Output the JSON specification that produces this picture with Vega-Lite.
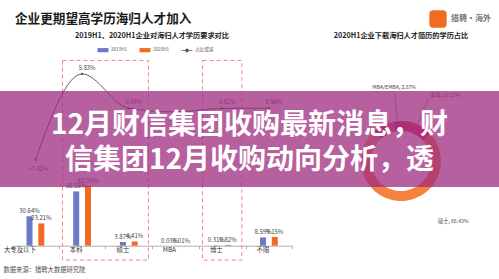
{
  "$schema": "https://vega.github.io/schema/vega-lite/v6.json",
  "width": 499,
  "height": 279,
  "autosize": {"type": "none"},
  "padding": 0,
  "background": "#ffffff",
  "config": {"view": {"stroke": null}, "font": "Noto Sans CJK SC", "text": {"font": "Noto Sans CJK SC"}},
  "title": {"text": "企业更期望高学历海归人才加入", "anchor": "start", "frame": "group", "orient": "top", "offset": 0, "dx": 15, "dy": 35.5, "baseline": "alphabetic", "font": "Noto Sans CJK SC", "fontSize": 12.6, "fontWeight": "bold", "color": "#1a1a1a"},
  "datasets": {
    "bars": [
      {"edu": "大专及以下", "series": "2019H1", "pct": 0.3064},
      {"edu": "大专及以下", "series": "2020H1", "pct": 0.2321},
      {"edu": "本科", "series": "2019H1", "pct": 0.5656},
      {"edu": "本科", "series": "2020H1", "pct": 0.6239},
      {"edu": "硕士", "series": "2019H1", "pct": 0.0387},
      {"edu": "硕士", "series": "2020H1", "pct": 0.0441},
      {"edu": "MBA", "series": "2019H1", "pct": 0.0003},
      {"edu": "MBA", "series": "2020H1", "pct": 0.0001},
      {"edu": "博士", "series": "2019H1", "pct": 0.0031},
      {"edu": "博士", "series": "2020H1", "pct": 0.0082},
      {"edu": "不限", "series": "2019H1", "pct": 0.0859},
      {"edu": "不限", "series": "2020H1", "pct": 0.0915}
    ],
    "change": [
      {"edu": "大专及以下", "chg": -0.0742},
      {"edu": "本科", "chg": 0.0583},
      {"edu": "硕士", "chg": 0.0054},
      {"edu": "MBA", "chg": -0.0002},
      {"edu": "博士", "chg": 0.0052},
      {"edu": "不限", "chg": 0.0056}
    ],
    "boxes": [
      {"from": "本科", "to": "硕士"},
      {"from": "博士", "to": "博士"}
    ],
    "share": [
      {"edu": "本科", "pct": 0.1327, "seq": 1},
      {"edu": "硕士", "pct": 0.6843, "seq": 2},
      {"edu": "不限", "pct": 0.066, "seq": 3},
      {"edu": "博士", "pct": 0.0532, "seq": 4},
      {"edu": "大专及以下", "pct": 0.0351, "seq": 5},
      {"edu": "MBA/EMBA", "pct": 0.0287, "seq": 6}
    ],
    "captions": [
      {"panel": "left", "text": "2019H1、2020H1企业对海归人才学历要求对比"},
      {"panel": "right", "text": "2020H1企业下载海归人才简历的学历占比"}
    ],
    "brand": [{"brand": "猎聘·海外"}],
    "band": [{"block": "headline"}],
    "headline": [
      {"line": "1", "text": "12月财信集团收购最新消息，财"},
      {"line": "2", "text": "信集团12月收购动向分析，透"}
    ]
  },
  "layer": [
    {
      "layer": [
        {
          "data": {"name": "boxes"},
          "mark": {"type": "rect", "fill": "transparent", "stroke": "#ee8a7c", "strokeWidth": 1, "strokeDash": [4, 3]},
          "encoding": {
            "x": {"field": "from", "type": "nominal", "bandPosition": 0.08, "scale": {"domain": ["大专及以下", "本科", "硕士", "MBA", "博士", "不限"], "range": [12.05, 292.25], "paddingInner": 0, "paddingOuter": 0}, "title": "数据来源：猎聘大数据研究院"},
            "x2": {"field": "to", "bandPosition": 0.92},
            "y": {"datum": 1.93, "type": "quantitative", "scale": {"domain": [0, 1], "range": [245.7, 149.7], "nice": false, "zero": false}, "axis": null},
            "y2": {"datum": -0.15}
          }
        },
        {
          "data": {"name": "bars"},
          "mark": {"type": "bar", "width": 6},
          "encoding": {
            "x": {"field": "edu", "type": "nominal", "scale": {"domain": ["大专及以下", "本科", "硕士", "MBA", "博士", "不限"], "range": [12.05, 292.25], "paddingInner": 0, "paddingOuter": 0}, "title": "数据来源：猎聘大数据研究院",
              "axis": {"title": "数据来源：猎聘大数据研究院", "orient": "bottom", "offset": -33.3, "domainColor": "#9a9a9a", "domainWidth": 0.8, "tickColor": "#9a9a9a", "tickSize": 3, "tickWidth": 0.8, "tickBand": "extent", "labelFontSize": 6.4, "labelColor": "#333333", "labelPadding": 0.5, "labelAngle": 0, "labelFont": "Noto Sans CJK SC", "titleFont": "Noto Sans CJK SC", "titleFontSize": 6.3, "titleFontWeight": "normal", "titleColor": "#555555", "titleAnchor": "start", "titleAlign": "left", "titleX": 3, "titleY": 24, "titleBaseline": "middle", "grid": false}},
            "xOffset": {"field": "series", "type": "nominal", "scale": {"domain": ["2019H1", "2020H1"], "range": [11.55, 35.15], "paddingInner": 0, "paddingOuter": 0}},
            "y": {"field": "pct", "type": "quantitative", "scale": {"domain": [0, 1], "range": [245.7, 149.7], "nice": false, "zero": false}, "axis": null},
            "color": {"field": "series", "type": "nominal", "scale": {"domain": ["2019H1", "2020H1", "占比增减"], "range": ["#6d78c6", "#f26b22", "#555555"]},
              "legend": {"orient": "none", "legendX": 97, "legendY": 44, "direction": "horizontal", "title": null, "labelFontSize": 4.6, "labelColor": "#555555", "labelFont": "Noto Sans CJK SC", "symbolSize": 120, "symbolType": "M-1,-0.38H1V0.38H-1Z", "symbolStrokeWidth": 0, "columnPadding": 9, "labelOffset": 2, "padding": 0,
                "encode": {"symbols": {"update": {"shape": {"signal": "datum.value === '占比增减' ? 'M-1,0H1M0.28,0A0.28,0.28,0,1,1,-0.28,0A0.28,0.28,0,1,1,0.28,0' : 'M-1,-0.38H1V0.38H-1Z'"}, "stroke": {"signal": "datum.value === '占比增减' ? '#555555' : 'transparent'"}, "strokeWidth": {"value": 0.8}}}}}}
          }
        },
        {
          "data": {"name": "bars"},
          "mark": {"type": "text", "fontSize": 6, "color": "#444444", "baseline": "bottom", "dy": -2},
          "encoding": {
            "x": {"field": "edu", "type": "nominal", "scale": {"domain": ["大专及以下", "本科", "硕士", "MBA", "博士", "不限"], "range": [12.05, 292.25], "paddingInner": 0, "paddingOuter": 0}, "title": "数据来源：猎聘大数据研究院"},
            "xOffset": {"field": "series", "type": "nominal", "scale": {"domain": ["2019H1", "2020H1"], "range": [11.55, 35.15], "paddingInner": 0, "paddingOuter": 0}},
            "y": {"field": "pct", "type": "quantitative", "scale": {"domain": [0, 1], "range": [245.7, 149.7], "nice": false, "zero": false}, "axis": null},
            "text": {"field": "pct", "type": "quantitative", "format": ".2%"}
          }
        }
      ]
    },
    {
      "data": {"name": "change"},
      "encoding": {
        "x": {"field": "edu", "type": "nominal", "scale": {"domain": ["大专及以下", "本科", "硕士", "MBA", "博士", "不限"], "range": [12.05, 292.25], "paddingInner": 0, "paddingOuter": 0}, "axis": null},
        "y": {"field": "chg", "type": "quantitative", "scale": {"domain": [-0.1, 0.1], "range": [176.7, 46.9], "nice": false, "zero": false}, "axis": null}
      },
      "layer": [
        {"mark": {"type": "line", "interpolate": "monotone", "stroke": "#4d4d4d", "strokeWidth": 0.9}},
        {"mark": {"type": "point", "filled": true, "size": 5, "color": "#4d4d4d", "opacity": 1}},
        {"transform": [{"filter": "datum.chg >= 0"}], "mark": {"type": "text", "fontSize": 5.8, "color": "#444444", "dy": -6, "dx": 5}, "encoding": {"text": {"field": "chg", "type": "quantitative", "format": ".2%"}}},
        {"transform": [{"filter": "datum.chg < 0"}], "mark": {"type": "text", "fontSize": 5.8, "color": "#444444", "dy": 9, "dx": 3}, "encoding": {"text": {"field": "chg", "type": "quantitative", "format": ".2%"}}}
      ]
    },
    {
      "data": {"name": "share"},
      "mark": {"type": "arc", "innerRadius": 30, "outerRadius": 40},
      "encoding": {
        "theta": {"field": "pct", "type": "quantitative", "stack": true},
        "order": {"field": "seq", "type": "quantitative"},
        "x": {"datum": 1, "type": "quantitative", "scale": {"domain": [0, 1], "range": [152, 401], "nice": false, "zero": false}, "axis": null},
        "y": {"datum": 1, "type": "quantitative", "scale": {"domain": [0, 1], "range": [36, 161], "nice": false, "zero": false}, "axis": null},
        "color": {"field": "edu", "type": "nominal", "scale": {"domain": ["本科", "硕士", "不限", "博士", "大专及以下", "MBA/EMBA"], "range": ["#e23b45", "#f4823c", "#f6a66c", "#d6335d", "#ea6b6b", "#c8384c"]}, "legend": null}
      }
    },
    {
      "data": {"name": "share"},
      "mark": {"type": "arc", "innerRadius": 41, "outerRadius": 68, "padAngle": 3.1416, "fill": "transparent", "stroke": "#8a8a8a", "strokeWidth": 0.5},
      "encoding": {
        "theta": {"field": "pct", "type": "quantitative", "stack": true},
        "order": {"field": "seq", "type": "quantitative"},
        "x": {"datum": 1, "type": "quantitative", "scale": {"domain": [0, 1], "range": [152, 401], "nice": false, "zero": false}, "axis": null},
        "y": {"datum": 1, "type": "quantitative", "scale": {"domain": [0, 1], "range": [36, 161], "nice": false, "zero": false}, "axis": null},
        "strokeOpacity": {"condition": {"test": "datum.edu === '本科' || datum.edu === 'MBA/EMBA'", "value": 1}, "value": 0}
      }
    },
    {
      "data": {"name": "share"},
      "encoding": {
        "theta": {"field": "pct", "type": "quantitative", "stack": true},
        "order": {"field": "seq", "type": "quantitative"},
        "x": {"datum": "right", "type": "nominal", "scale": {"type": "point", "domain": ["left", "right"], "range": [152, 401], "padding": 0}, "axis": null},
        "y": {"datum": "chart", "type": "nominal", "scale": {"type": "point", "domain": ["title", "chart"], "range": [36, 161], "padding": 0}, "axis": null}
      },
      "layer": [
        {"mark": {"type": "text", "fontSize": 5.2, "color": "#444444", "align": "left", "baseline": "middle", "radius": 72, "text": {"expr": "datum.edu + ', ' + format(datum.pct, '.2%')"}},
          "encoding": {"opacity": {"condition": {"test": "datum.edu === '本科'", "value": 1}, "value": 0}}},
        {"mark": {"type": "text", "fontSize": 5.2, "color": "#444444", "align": "left", "baseline": "middle", "radius": 70, "dx": 26, "dy": -9, "text": {"expr": "datum.edu + ', ' + format(datum.pct, '.2%')"}},
          "encoding": {"opacity": {"condition": {"test": "datum.edu === '硕士'", "value": 1}, "value": 0}}},
        {"mark": {"type": "text", "fontSize": 5.2, "color": "#444444", "align": "center", "baseline": "middle", "radius": 74, "text": {"expr": "datum.edu + ', ' + format(datum.pct, '.2%')"}},
          "encoding": {"opacity": {"condition": {"test": "datum.edu === 'MBA/EMBA'", "value": 1}, "value": 0}}}
      ]
    },
    {
      "data": {"name": "captions"},
      "mark": {"type": "text", "fontSize": 7.2, "fontWeight": "bold", "color": "#222222", "baseline": "middle", "align": "center"},
      "encoding": {
        "x": {"field": "panel", "type": "nominal", "scale": {"type": "point", "domain": ["left", "right"], "range": [152, 401], "padding": 0}, "axis": null},
        "y": {"datum": "title", "type": "nominal", "scale": {"type": "point", "domain": ["title", "chart"], "range": [36, 161], "padding": 0}, "axis": null},
        "text": {"field": "text"}
      }
    },
    {
      "data": {"name": "brand"},
      "mark": {"type": "point", "filled": true, "color": "#f26b22", "opacity": 0, "size": 300},
      "encoding": {
        "shape": {"field": "brand", "type": "nominal", "scale": {"domain": ["猎聘·海外"], "range": ["M-1,-0.55Q-1,-1,-0.55,-1H0.55Q1,-1,1,-0.55V0.55Q1,1,0.55,1H-0.55Q-1,1,-1,0.55Z"]},
          "legend": {"orient": "none", "legendX": 429, "legendY": 10, "title": null, "symbolSize": 300, "symbolFillColor": "#f26b22", "symbolStrokeWidth": 0, "symbolOpacity": 1, "labelFontSize": 8, "labelFontWeight": "bold", "labelColor": "#777777", "labelFont": "Noto Sans CJK SC", "labelOffset": 4, "padding": 0}}
      }
    },
    {
      "data": {"name": "band"},
      "mark": {"type": "rect", "fill": "#9f2b80", "opacity": 0.75},
      "encoding": {
        "y": {"field": "block", "type": "nominal", "scale": {"domain": ["headline"], "range": [91, 187], "paddingInner": 0, "paddingOuter": 0}, "axis": null}
      }
    },
    {
      "data": {"name": "headline"},
      "mark": {"type": "text", "fontSize": 28, "fontWeight": "bold", "color": "#ffffff", "baseline": "middle", "align": "center", "font": "Noto Sans CJK SC"},
      "encoding": {
        "y": {"field": "line", "type": "nominal", "scale": {"domain": ["1", "2"], "range": [108, 178], "paddingInner": 0, "paddingOuter": 0}, "axis": null},
        "text": {"field": "text"}
      }
    }
  ],
  "resolve": {"scale": {"x": "independent", "y": "independent", "color": "independent", "shape": "independent", "theta": "independent", "xOffset": "independent", "opacity": "independent"}}
}
